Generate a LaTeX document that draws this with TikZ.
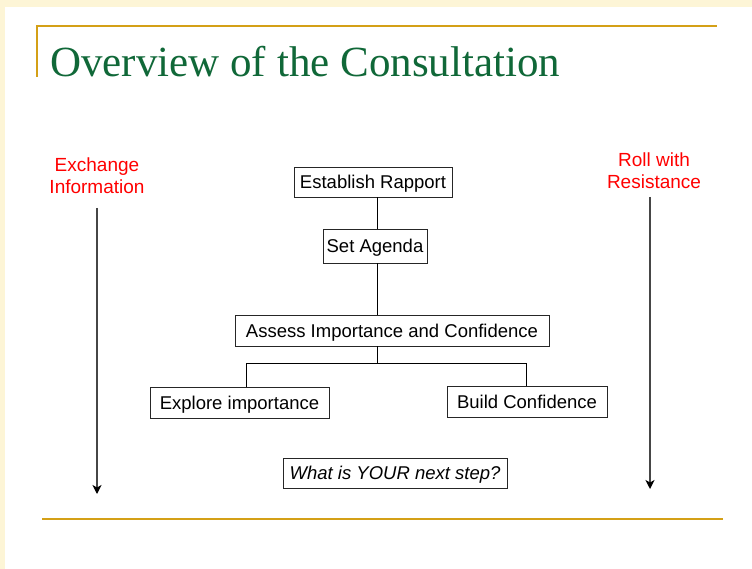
\documentclass[tikz,border=0pt]{standalone}
\usepackage{fontspec}
\setmainfont{Liberation Serif}
\setsansfont{Liberation Sans}
\usetikzlibrary{arrows.meta}
\definecolor{band}{RGB}{253,245,214}
\definecolor{gold}{RGB}{212,160,23}
\definecolor{titlegreen}{RGB}{16,104,56}
\definecolor{arrowgray}{RGB}{70,70,70}
\tikzset{
  boxnode/.style={draw=black!85, line width=0.9pt, inner sep=0pt, align=center,
    text height=13.3pt, text depth=0pt,
    font=\sffamily\fontsize{18.5}{22}\selectfont},
  redlabel/.style={inner sep=0pt, align=center, text=red,
    font=\sffamily\fontsize{19}{22}\selectfont},
  link/.style={draw=black, line width=0.9pt},
  sidearrow/.style={draw=arrowgray, line width=1.5pt,
    -{Stealth[length=9pt,width=9pt,inset=2.5pt,color=black]}},
  goldline/.style={draw=gold, line width=2pt}
}
\begin{document}
\begin{tikzpicture}[x=1pt,y=-1pt]
\useasboundingbox (0,0) rectangle (752,569);
\fill[white] (0,0) rectangle (752,569);
\fill[band] (0,0) rectangle (752,7);
\fill[band] (0,0) rectangle (5,569);
% gold rules
\draw[goldline] (37,77) -- (37,26) -- (717,26);
\draw[goldline] (42,518.5) -- (723,518.5);
% title
\node[anchor=base west, inner sep=0pt, text=titlegreen,
  font=\fontsize{43}{48}\selectfont] (title) at (50,77) {Overview of the Consultation};
% boxes
\node[boxnode, minimum width=158pt, minimum height=30pt] (rapport) at (373,182) {Establish Rapport};
\node[boxnode, minimum width=104pt, minimum height=34pt] (agenda) at (375,246) {Set Agenda};
\node[boxnode, minimum width=314pt, minimum height=31pt] (assess) at (392,330.5) {Assess Importance and Confidence};
\node[boxnode, minimum width=179pt, minimum height=31pt] (explore) at (239.5,402.5) {Explore importance};
\node[boxnode, minimum width=160pt, minimum height=31pt] (build) at (527,401.5) {Build Confidence};
\node[boxnode, minimum width=224pt, minimum height=30pt,
  font=\sffamily\itshape\fontsize{18.5}{22}\selectfont] (next) at (395,473) {What is YOUR next step?};
% connectors
\coordinate (trunk) at (377,0);
\coordinate (bus) at (377,363);
\coordinate (lft) at (246,363);
\coordinate (rgt) at (526,363);
\draw[link] (rapport.south -| trunk) -- (agenda.north -| trunk);
\draw[link] (agenda.south -| trunk) -- (assess.north -| trunk);
\draw[link] (assess.south -| bus) -- (bus);
\draw[link] (explore.north -| lft) -- (lft) -- (rgt) -- (build.north -| rgt);
% side labels and arrows
\node[redlabel] (exchange) at (97,176) {Exchange\\Information};
\node[redlabel] (roll) at (654,171) {Roll with\\Resistance};
\coordinate (la) at (97,208);
\coordinate (lb) at (97,494);
\coordinate (ra) at (650,197);
\coordinate (rb) at (650,489);
\draw[sidearrow] (la) -- (lb);
\draw[sidearrow] (ra) -- (rb);
\end{tikzpicture}
\end{document}
